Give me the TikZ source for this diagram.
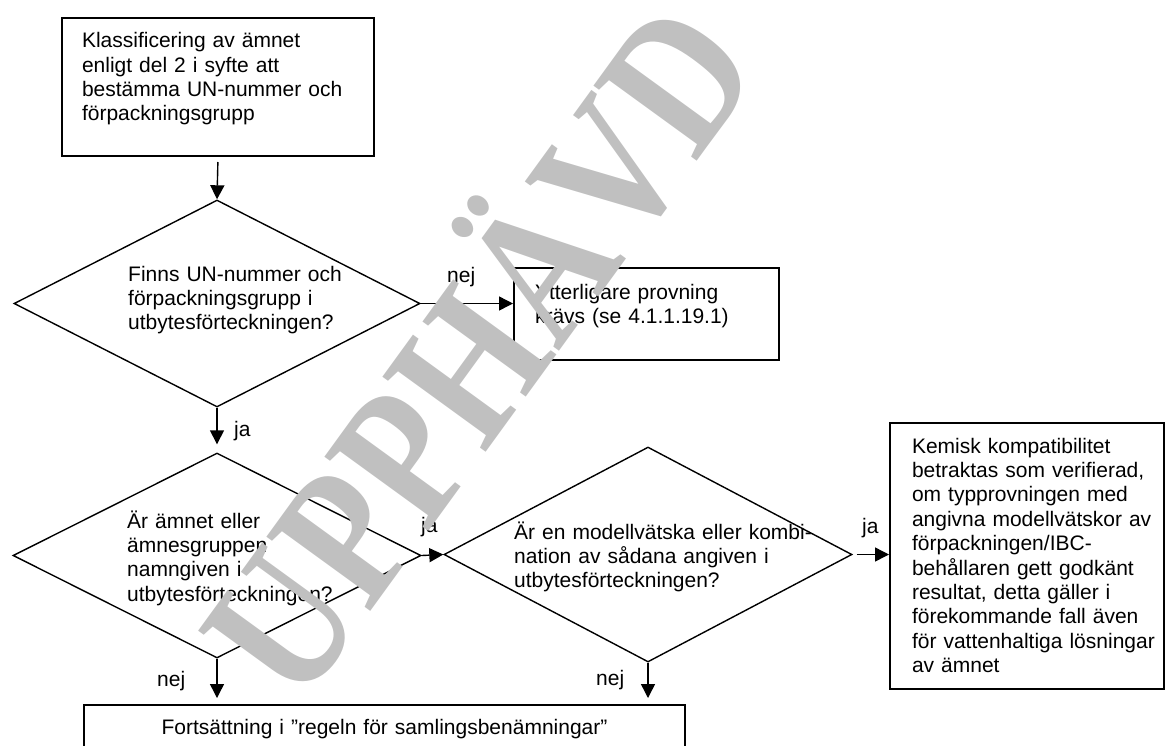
\documentclass[tikz,border=0pt]{standalone}
\usepackage{fontspec}
\setmainfont{Liberation Sans}
\newfontfamily\stampfont{Liberation Serif}[FakeStretch = 0.83]
\usetikzlibrary{shapes.geometric, arrows.meta}
\definecolor{stampgray}{RGB}{192,192,192}

\begin{document}
\begin{tikzpicture}
        [
        x = 1pt, y = -1pt,
        every node/.style = {font = \fontsize{21}{24.4}\selectfont},
        box/.style = {
            draw, line width = 2pt,
            align = left,
            inner ysep = 0pt,
            anchor = north west,
        },
        question/.style = {
            draw, diamond,
            line width = 1.4pt,
            inner sep = 0pt,
        },
        qtext/.style = {
            align = left,
            inner sep = 0pt,
            anchor = base west,
        },
        answer/.style = {
            inner sep = 0pt,
            anchor = base west,
        },
        flow/.style = {
            line width = 1.4pt,
            -{Triangle[length = 14pt, width = 14pt]},
        },
        stamp/.style = {
            text = stampgray,
            font = \stampfont\bfseries\fontsize{195}{195}\selectfont,
            inner sep = 0pt,
        },
        ]

        \useasboundingbox (0,0) rectangle (1166,745);

        % Rutor
        \node[box, inner xsep = 20pt, text width = 272pt, text height = 29.7pt, text depth = 108.3pt] (klass) at (61,17) {Klassificering av ämnet\\enligt del 2 i syfte att\\bestämma UN-nummer och\\förpackningsgrupp};
        \node[box, inner xsep = 21pt, text width = 223pt, text height = 31pt, text depth = 61pt] (ytt) at (513,267) {Ytterligare provning\\krävs (se 4.1.1.19.1)};
        \node[box, inner xsep = 22pt, text width = 230pt, text height = 30pt, text depth = 236pt] (kem) at (889,422) {Kemisk kompatibilitet\\\mbox{betraktas som verifierad,}\\om typprovningen med\\\mbox{angivna modellvätskor av}\\förpackningen/IBC-\\behållaren gett godkänt\\resultat, detta gäller i\\förekommande fall även\\\mbox{för vattenhaltiga lösningar}\\av ämnet};
        \node[box, align = center, inner xsep = 20pt, text width = 561pt, text height = 29pt, text depth = 20pt] (bot) at (83,704) {Fortsättning i ”regeln för samlingsbenämningar”};

        % Frågor
        \node[question, minimum width = 406pt, minimum height = 207pt] (q1) at (217,303.5) {};
        \node[question, minimum width = 408pt, minimum height = 205pt] (q2) at (217,555.5) {};
        \node[question, minimum width = 408pt, minimum height = 215pt] (q3) at (648,554.5) {};

        \node[qtext, text width = 230pt] (q1txt) at (128,281) {Finns UN-nummer och\\förpackningsgrupp i\\utbytesförteckningen?};
        \node[qtext, text width = 230pt] (q2txt) at (127,528) {Är ämnet eller\\ämnesgruppen\\namngiven i\\utbytesförteckningen?};
        \node[qtext, text width = 300pt] (q3txt) at (514,539) {Är en modellvätska eller kombi-\\nation av sådana angiven i\\utbytesförteckningen?};

        % Svar
        \node[answer] (nej1) at (447,282) {nej};
        \node[answer] (ja1) at (234,436) {ja};
        \node[answer] (ja2) at (421,532) {ja};
        \node[answer] (ja3) at (862,533) {ja};
        \node[answer] (nej2) at (157,686) {nej};
        \node[answer] (nej3) at (596,685) {nej};

        % Övergångar
        \path
            [
            flow
            ]
            (klass.south) edge[shorten <= 5pt] (q1.north)
            (q1.east) edge (q1.east -| ytt.west)
            (q1.south) edge[shorten >= 8pt] (q2.north)
            (q2.east) edge (q3.west)
            (q3.east) edge[shorten <= 4pt] (q3.east -| kem.west)
            (q2.south) edge[shorten >= 6pt] (q2.south |- bot.north)
            (q3.south) edge[shorten >= 6pt] (q3.south |- bot.north);

        % Stämpel
        \node[stamp, rotate = 54, anchor = base] (upphavd) at (532,389) {UPPHÄVD};
    \end{tikzpicture}
\end{document}
